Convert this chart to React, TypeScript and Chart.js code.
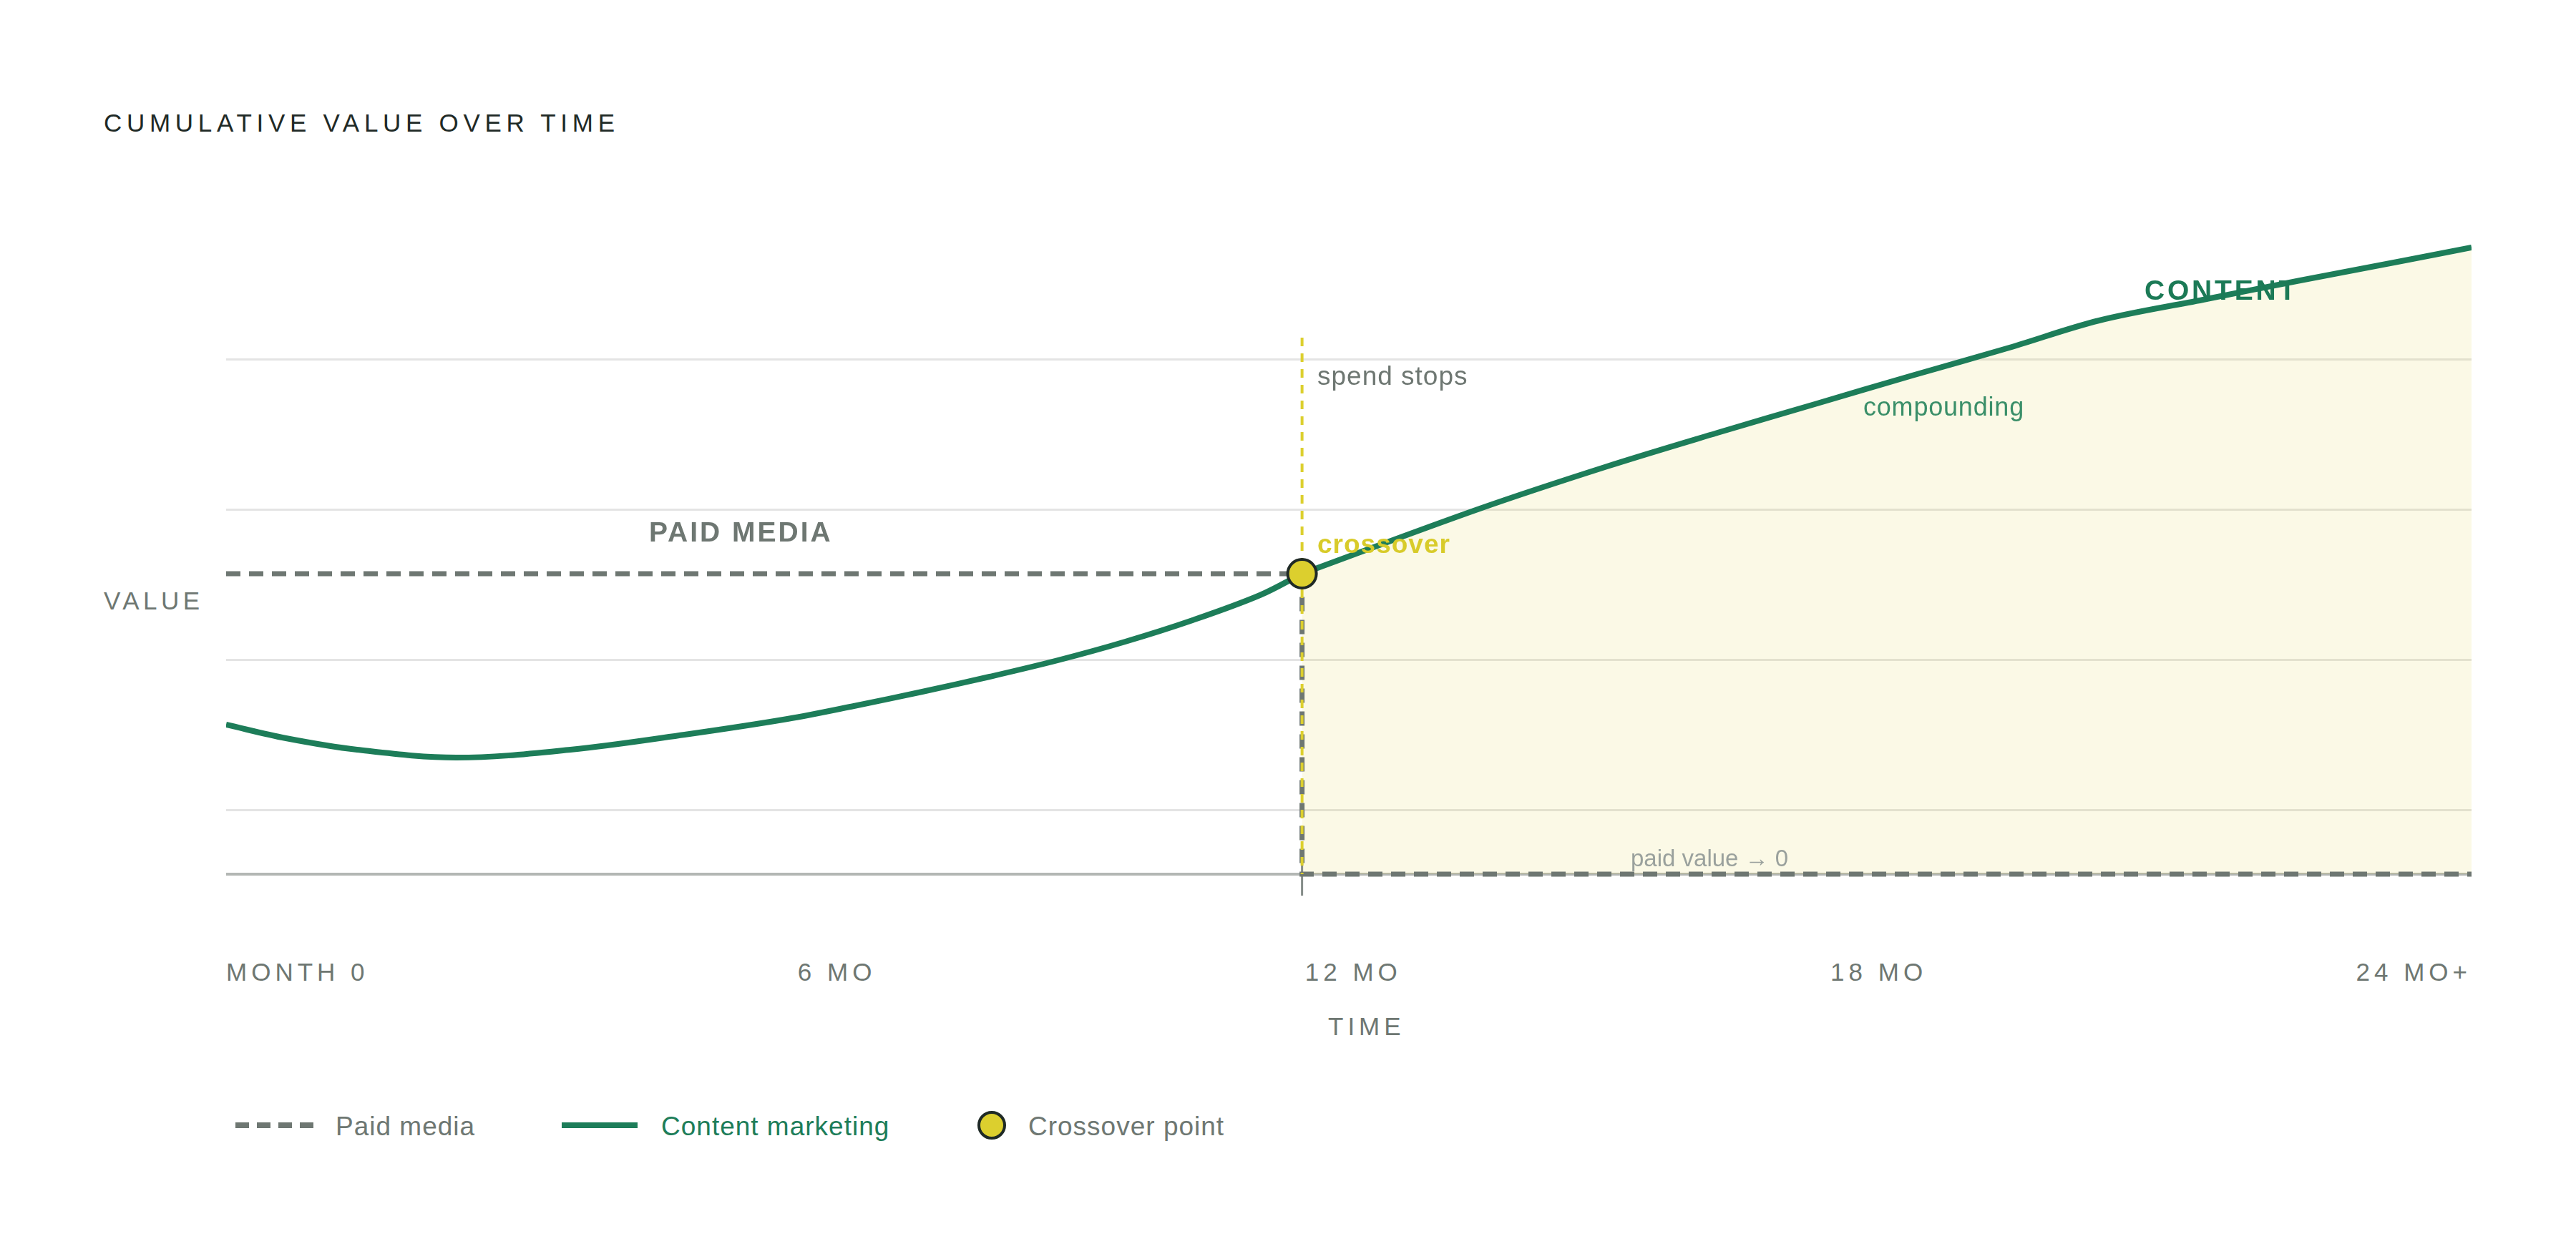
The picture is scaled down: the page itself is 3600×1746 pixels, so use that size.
import { useEffect, useRef } from "react"
import type { CSSProperties, ReactNode } from "react"
import { Chart, registerables } from "chart.js"

Chart.register(...registerables)

// Content marketing cumulative value (arbitrary units)
const MONTHS = [
  0, 0.64, 1.4, 2.46, 3.68, 4.9, 6.0, 6.71, 7.44, 8.16, 8.89, 9.61, 10.33, 11.05, 11.5,
  13.4, 14.76, 15.94, 16.98, 18.02, 19.06, 20.02, 21.13, 22.17, 23.21, 24,
]
const CONTENT_VALUE = [
  20.9, 19.0, 17.4, 16.3, 17.4, 19.5, 21.7, 23.5, 25.5, 27.6, 29.9, 32.5, 35.5, 39.0, 42.0,
  51.1, 57.0, 61.7, 65.7, 69.7, 73.6, 77.4, 80.3, 83.0, 85.6, 87.6,
]

// Paid media: flat while spending, drops to zero when spend stops
const PAID_MONTHS = [0, 11.5, 11.5, 24]
const PAID_VALUE = [42, 42, 0, 0]

const CROSSOVER_MONTH = 11.5
const CROSSOVER_VALUE = 42
const SPEND_STOP_TOP = 75

const GRID_VALUES = [0, 9, 30, 51, 72]
const X_LABELS = ["MONTH 0", "6 MO", "12 MO", "18 MO", "24 MO+"]

const GREEN = "#1d7d59"
const GRAY = "#6e7772"
const YELLOW = "#dccf2e"
const DARK = "#1f2a26"

const FONT = '"Liberation Sans", Arial, Helvetica, sans-serif'

function Label({ x, baseline, size, children, style }: { x: number; baseline: number; size: number; children: ReactNode; style?: CSSProperties }) {
  return (
    <div
      style={{
        position: "absolute",
        left: x,
        top: baseline - 0.8465 * size,
        fontSize: size,
        lineHeight: `${size}px`,
        whiteSpace: "nowrap",
        ...style,
      }}
    >
      {children}
    </div>
  )
}

function ValueChart() {
  const chartRef = useRef<HTMLCanvasElement>(null)
  const chartInstance = useRef<Chart | null>(null)

  useEffect(() => {
    if (!chartRef.current) return
    if (chartInstance.current) chartInstance.current.destroy()
    const ctx = chartRef.current.getContext("2d")
    if (!ctx) return

    const content = MONTHS.map((m, i) => ({ x: m, y: CONTENT_VALUE[i] }))
    const beforeCrossover = content.filter((p) => p.x <= CROSSOVER_MONTH)
    const afterCrossover = content.filter((p) => p.x >= CROSSOVER_MONTH)
    const paid = PAID_MONTHS.map((m, i) => ({ x: m, y: PAID_VALUE[i] }))

    chartInstance.current = new Chart(ctx, {
      type: "line",
      data: {
        datasets: [
          {
            // crossover marker
            data: [{ x: CROSSOVER_MONTH, y: CROSSOVER_VALUE }],
            showLine: false,
            pointRadius: 20,
            pointBackgroundColor: YELLOW,
            pointBorderColor: DARK,
            pointBorderWidth: 4,
            order: 0,
          },
          {
            // spend stops marker
            data: [
              { x: CROSSOVER_MONTH, y: SPEND_STOP_TOP },
              { x: CROSSOVER_MONTH, y: 0 },
            ],
            borderColor: YELLOW,
            borderWidth: 4,
            borderDash: [12, 10],
            pointRadius: 0,
            order: 1,
          },
          {
            data: paid,
            borderColor: GRAY,
            borderWidth: 7,
            borderDash: [20, 12],
            borderCapStyle: "butt",
            pointRadius: 0,
            tension: 0,
            order: 2,
          },
          {
            // small tick under the baseline at the crossover month
            data: [
              { x: CROSSOVER_MONTH, y: 1.8 },
              { x: CROSSOVER_MONTH, y: -3 },
            ],
            borderColor: "#858c88",
            borderWidth: 3,
            pointRadius: 0,
            order: 3,
          },
          {
            data: beforeCrossover,
            borderColor: GREEN,
            borderWidth: 8,
            pointRadius: 0,
            tension: 0.35,
            clip: 0,
            order: 4,
          },
          {
            data: afterCrossover,
            borderColor: GREEN,
            borderWidth: 8,
            pointRadius: 0,
            tension: 0.35,
            fill: "origin",
            backgroundColor: "rgba(221, 208, 46, 0.12)",
            clip: 0,
            order: 5,
          },
        ],
      },
      options: {
        animation: false,
        responsive: true,
        maintainAspectRatio: false,
        events: [],
        layout: { padding: 0, autoPadding: false },
        plugins: {
          legend: { display: false },
          tooltip: { enabled: false },
        },
        scales: {
          x: {
            type: "linear",
            min: 0,
            max: 24,
            display: false,
          },
          y: {
            type: "linear",
            min: -4,
            max: 93,
            afterBuildTicks: (axis) => {
              axis.ticks = GRID_VALUES.map((v) => ({ value: v }))
            },
            ticks: { display: false },
            border: { display: false },
            grid: {
              drawTicks: false,
              color: (c) => (c.tick && c.tick.value === 0 ? "#b3b7b4" : "#e4e4e4"),
              lineWidth: (c) => (c.tick && c.tick.value === 0 ? 4 : 3),
            },
          },
        },
      },
    })

    return () => {
      if (chartInstance.current) {
        chartInstance.current.destroy()
        chartInstance.current = null
      }
    }
  }, [])

  return (
    <div style={{ position: "absolute", left: 316, top: 292, width: 3138, height: 970 }}>
      <canvas ref={chartRef} />
    </div>
  )
}

export default function App() {
  return (
    <div
      style={{
        position: "absolute",
        left: 0,
        top: 0,
        width: 3600,
        height: 1746,
        background: "#ffffff",
        fontFamily: FONT,
        overflow: "hidden",
      }}
    >
      <Label x={145} baseline={184} size={35} style={{ color: DARK, letterSpacing: 6.7 }}>
        CUMULATIVE VALUE OVER TIME
      </Label>

      <Label x={145} baseline={852} size={35} style={{ color: GRAY, letterSpacing: 5.5 }}>
        VALUE
      </Label>

      <ValueChart />

      {/* annotations */}
      <Label x={907} baseline={757} size={39} style={{ color: GRAY, fontWeight: 700, letterSpacing: 3 }}>
        PAID MEDIA
      </Label>
      <Label x={1841} baseline={538} size={37} style={{ color: GRAY, letterSpacing: 1 }}>
        spend stops
      </Label>
      <Label x={1841} baseline={773} size={37} style={{ color: "#d8cb2a", fontWeight: 700, letterSpacing: 1 }}>
        crossover
      </Label>
      <Label x={2604} baseline={581} size={36} style={{ color: "#3a8f69", letterSpacing: 0.8 }}>
        compounding
      </Label>
      <Label x={2997} baseline={419} size={39} style={{ color: "#1b7a56", fontWeight: 700, letterSpacing: 3.8 }}>
        CONTENT
      </Label>
      <Label x={2279} baseline={1211} size={33} style={{ color: "#9aa19d" }}>
        paid value → 0
      </Label>

      {/* x axis labels */}
      <div
        style={{
          position: "absolute",
          left: 316,
          top: 1371 - 0.8465 * 35,
          width: 3138,
          display: "flex",
          justifyContent: "space-between",
          fontSize: 35,
          lineHeight: "35px",
          letterSpacing: 6,
          color: GRAY,
          whiteSpace: "nowrap",
        }}
      >
        {X_LABELS.map((l) => (
          <span key={l}>{l}</span>
        ))}
      </div>
      <Label x={1856} baseline={1447} size={35} style={{ color: GRAY, letterSpacing: 6 }}>
        TIME
      </Label>

      {/* legend */}
      <div
        style={{
          position: "absolute",
          left: 329,
          top: 1569,
          width: 110,
          height: 8,
          background: `repeating-linear-gradient(to right, ${GRAY} 0px, ${GRAY} 19px, transparent 19px, transparent 30px)`,
        }}
      />
      <Label x={469} baseline={1587} size={37} style={{ color: GRAY, letterSpacing: 1 }}>
        Paid media
      </Label>
      <div style={{ position: "absolute", left: 785, top: 1569, width: 106, height: 8, background: GREEN }} />
      <Label x={924} baseline={1587} size={37} style={{ color: GREEN, letterSpacing: 1 }}>
        Content marketing
      </Label>
      <div
        style={{
          position: "absolute",
          left: 1366,
          top: 1553,
          width: 40,
          height: 40,
          boxSizing: "border-box",
          borderRadius: "50%",
          background: YELLOW,
          border: `4px solid ${DARK}`,
        }}
      />
      <Label x={1437} baseline={1587} size={37} style={{ color: GRAY, letterSpacing: 1 }}>
        Crossover point
      </Label>
    </div>
  )
}
